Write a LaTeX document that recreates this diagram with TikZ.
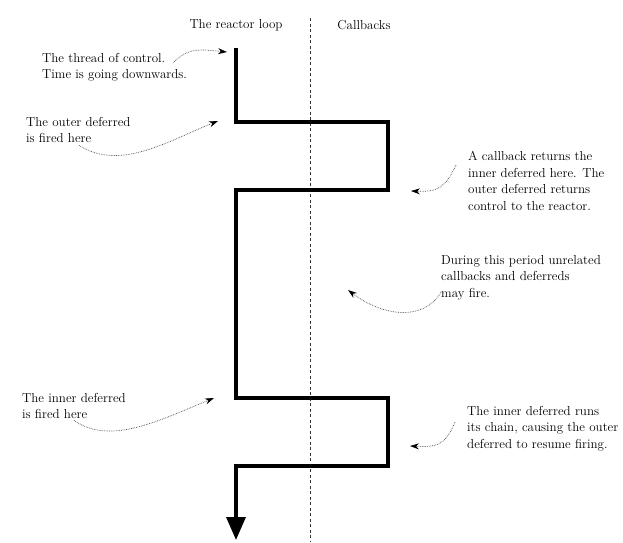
\documentclass[tikz,border=0pt]{standalone}
\usepackage{tikz}
\usetikzlibrary{arrows.meta}

\begin{document}
\begin{tikzpicture}[x=1pt,y=-1pt,
  note/.style={align=left,anchor=north west,inner sep=0pt,font=\fontsize{13}{16.6}\selectfont},
  head/.style={inner sep=0pt,font=\fontsize{13}{16.6}\selectfont},
  pointer/.style={densely dotted,black!70,line width=0.7pt,-{Stealth[length=9pt,width=6pt,black]}},
  thread/.style={line width=3.5pt,-{Triangle[length=23pt,width=19pt]}}]
\useasboundingbox (0,0) rectangle (623,542);

% columns
\node[head] (loop) at (236,25) {The reactor loop};
\node[head] (cb) at (364,25) {Callbacks};
\coordinate (divtop) at (310,18);
\coordinate (divbot) at (310,542);
\draw[dash pattern=on 3pt off 2.5pt,line width=0.6pt,black!80] (divtop) -- (divbot);

% the thread of control
\coordinate (start) at (236,48);
\coordinate (fire1) at (236,122);
\coordinate (ret1) at (236,190);
\coordinate (fire2) at (236,398);
\coordinate (ret2) at (236,466);
\coordinate (stop) at (236,540);
\draw[thread] (start) -- (fire1) -| (388,190) -- (ret1) -- (fire2) -| (388,466) -- (ret2) -- (stop);

% notes
\node[note] (threadnote) at (42,53) {The thread of control.\\Time is going downwards.};
\node[note] (outernote) at (26,117) {The outer deferred\\is fired here};
\node[note] (callbacknote) at (468,151) {A callback returns the\\inner deferred here. The\\outer deferred returns\\control to the reactor.};
\node[note] (periodnote) at (441,255) {During this period unrelated\\callbacks and deferreds\\may fire.};
\node[note] (innernote) at (22,393) {The inner deferred\\is fired here};
\node[note] (chainnote) at (467,406) {The inner deferred runs\\its chain, causing the outer\\deferred to resume firing.};

% pointers
\coordinate (p1) at (227,52);
\coordinate (p2) at (218,121);
\coordinate (p3) at (411,191);
\coordinate (p4) at (348,290);
\coordinate (p5) at (214,398);
\coordinate (p6) at (410,446);
\draw[pointer] (173,63) .. controls (188,46) and (205,50) .. (p1);
\draw[pointer] ([xshift=53pt,yshift=-2pt]outernote.south west) .. controls (120,172) and (170,140) .. (p2);
\draw[pointer] ([xshift=-12pt,yshift=-14pt]callbacknote.north west) .. controls (445,188) and (438,192) .. (p3);
\draw[pointer] ([yshift=8pt]periodnote.south west) .. controls (425,320) and (385,318) .. (p4);
\draw[pointer] ([xshift=52pt,yshift=-1pt]innernote.south west) .. controls (110,446) and (160,420) .. (p5);
\draw[pointer] ([xshift=-12pt,yshift=-16pt]chainnote.north west) .. controls (445,447) and (435,447) .. (p6);
\end{tikzpicture}
\end{document}
